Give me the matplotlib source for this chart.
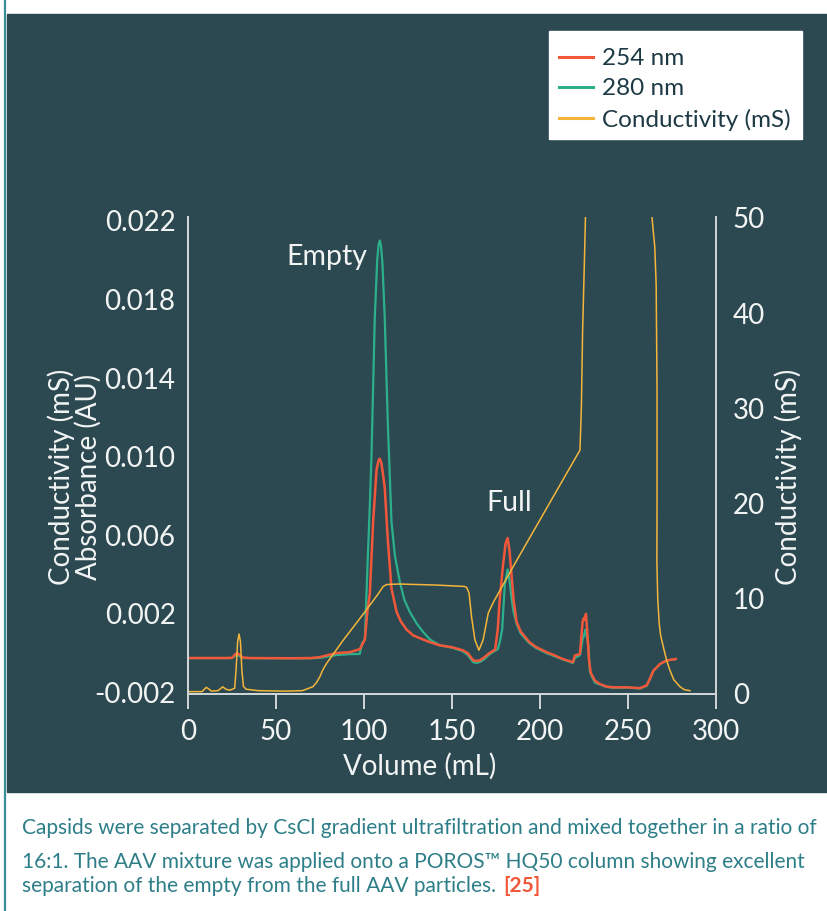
import matplotlib
matplotlib.use("Agg")
import matplotlib.pyplot as plt
from matplotlib.patches import Rectangle
from matplotlib.lines import Line2D

plt.rcParams['font.family'] = ['Lato', 'DejaVu Sans']

# ---- data ----
vol_254 = [0, 20, 25, 27, 28, 29.5, 31, 35, 60, 70, 75, 84, 92, 97.6, 100.5, 102, 103.3,
           105.2, 107.1, 108.2, 109, 109.8, 110.5, 111.8, 113.5, 115.6, 118.5, 121, 124.2, 128,
           133.4, 137.4, 143, 150, 156, 159, 162, 164, 166, 168.5, 170.5, 173, 174.5,
           176, 177, 179, 180.5, 181.6, 182.7, 183.8, 185, 186.7, 189, 194, 198, 203.7,
           208, 213, 218.7, 219.8, 222.7, 224.2, 225, 225.5, 226.1, 227, 227.8, 228.8,
           231.2, 234, 237.8, 241.5, 249.2, 256.8, 260.6, 262.5, 264.4, 268.2, 272, 277.1]
abs_254 = [-0.00025, -0.00025, -0.00024, -0.00005, 0.0, -0.0001, -0.00022, -0.00025,
           -0.00026, -0.00025, -0.0002, 0.0, 0.00005, 0.0002, 0.0007, 0.0022, 0.0030,
           0.0067, 0.0093, 0.0098, 0.0099, 0.0097, 0.0093, 0.0084, 0.0058, 0.0033, 0.0021, 0.0016,
           0.0012, 0.0009, 0.0007, 0.00056, 0.0004, 0.0003, 0.00015, 0.0, -0.00036, -0.0004,
           -0.00036, -0.0002, -0.00005, 0.0001, 0.00018, 0.0012, 0.0026, 0.0045, 0.0056,
           0.00586, 0.0052, 0.0040, 0.0027, 0.0016, 0.0011, 0.00056, 0.0003, 0.00005,
           -0.0001, -0.0003, -0.00046, -0.00012, -0.00004, 0.0016, 0.0018, 0.0017, 0.0020,
           0.0009, -0.0003, -0.0010, -0.0014, -0.00157, -0.0017, -0.00174, -0.00174,
           -0.00178, -0.00164, -0.0013, -0.0009, -0.00055, -0.00037, -0.0003]

vol_280 = [0, 25, 27, 28.5, 30, 31, 60, 70, 75, 84, 92, 97.6, 98.9, 100.5, 102, 103.3, 104.3,
           106.1, 107.5, 108.3, 109, 109.7, 110.5, 111.8, 113.5, 115.6, 117.5, 120.4, 123, 126, 130,
           133.4, 137.4, 143, 150, 156, 159, 162, 164, 166, 168.5, 170.5, 173, 176, 177,
           178.5, 180, 181.6, 182.7, 183.8, 185, 186.7, 189, 194, 198, 203.7, 208, 213,
           218.7, 219.8, 222.7, 224.2, 225, 225.8, 226.6, 227.5, 228.3, 229.5, 231.2, 234,
           237.8, 241.5, 249.2, 256.8, 260.6, 262.5, 264.4, 268.2, 272, 277.1]
abs_280 = [-0.00025, -0.00025, -0.00012, -0.0001, -0.0002, -0.00025, -0.00026, -0.00026,
           -0.00024, -0.0001, -0.00005, -0.00004, 0.0005, 0.0007, 0.0045, 0.0075, 0.0102,
           0.0170, 0.0200, 0.0208, 0.0210, 0.0207, 0.0198, 0.0170, 0.0118, 0.0067, 0.0050,
           0.0036, 0.0027, 0.0021, 0.0015, 0.0011, 0.0007, 0.0004, 0.00028, 0.0001, -0.0001,
           -0.00046, -0.0005, -0.00044, -0.0003, -0.00012, 0.00005, 0.0002, 0.0005, 0.0012,
           0.0035, 0.00426, 0.0037, 0.0028, 0.0021, 0.0015, 0.0010, 0.0005, 0.00025, 0.0,
           -0.00015, -0.00032, -0.0005, -0.00025, -0.0001, 0.0007, 0.0009, 0.0012, 0.0008,
           0.0004, -0.0009, -0.0012, -0.0015, -0.0016, -0.00172, -0.00176, -0.00175, -0.0018,
           -0.00166, -0.0013, -0.0009, -0.00056, -0.00038, -0.0003]

vol_cond = [0, 8, 10.4, 12, 13.3, 17, 19.8, 21.5, 23.7, 26.5, 27.3, 28.2, 29, 29.8, 30.6,
            31.5, 33, 40, 55, 65, 71, 73, 74.9, 76.5, 78.7, 88, 100, 108, 110.9, 113, 120,
            140, 157, 158.3, 159.7, 161.1, 163, 165.3, 167.7, 170.6, 173.4, 184.8, 220.8,
            222.7, 223.5, 224.2, 225.3, 226.2, 262.5, 263.8, 265.2, 266.0, 266.5, 266.5,
            266.4, 266.9, 267.7, 268.5, 270, 272, 273.8, 276, 279.5, 282, 285.2]
cond_ms = [0.25, 0.25, 0.7, 0.5, 0.3, 0.35, 0.75, 0.5, 0.4, 0.6, 2.5, 5.5, 6.3, 5.5, 2.5,
           0.8, 0.5, 0.35, 0.3, 0.35, 0.77, 1.2, 1.8, 2.5, 3.2, 5.6, 8.5, 10.5, 11.3, 11.5,
           11.55, 11.45, 11.3, 11.2, 10.6, 8.1, 5.7, 4.6, 5.7, 8.5, 9.6, 13.4, 25.0, 25.6,
           30, 38, 46, 53, 53, 49.7, 47, 43, 32, 20, 14, 10, 7.5, 6.2, 5.0, 3.5, 2.5, 1.5,
           0.77, 0.45, 0.35]

x_ticks = [0, 50, 100, 150, 200, 250, 300]
abs_ticks = [-0.002, 0.002, 0.006, 0.010, 0.014, 0.018, 0.022]
abs_labels = ['-0.002', '0.002', '0.006', '0.010', '0.014', '0.018', '0.022']
cond_ticks = [0, 10, 20, 30, 40, 50]
series_names = ['254 nm', '280 nm', 'Conductivity (mS)']

caption = ["Capsids were separated by CsCl gradient ultrafiltration and mixed together in a ratio of",
           "16:1. The AAV mixture was applied onto a POROS\u2122 HQ50 column showing excellent",
           "separation of the empty from the full AAV particles."]

PANEL = '#2c4951'
RED = '#f2573a'
GREEN = '#2cb08c'
ORANGE = '#f4b53a'
TXT = '#f2f4f4'
SPINE = '#d0d6d8'
TEAL = '#2d7e88'

W, H = 827, 911
fig = plt.figure(figsize=(W / 100, H / 100), dpi=100)
fig.patch.set_facecolor('white')

# dark panel, teal left rule, white legend box
fig.patches.append(Rectangle((7 / W, 1 - 792 / H), 1, (792 - 14) / H,
                             transform=fig.transFigure, color=PANEL, zorder=-5))
fig.lines.append(Line2D([5 / W, 5 / W], [0, 1], transform=fig.transFigure,
                        color='#3a8e98', lw=1.6, zorder=-4))
fig.patches.append(Rectangle((549 / W, 1 - 139 / H), (802 - 549) / W, (139 - 31) / H,
                             transform=fig.transFigure, color='white', zorder=-3))

ax = fig.add_axes([188 / W, 1 - 694 / H, (716 - 188) / W, (694 - 217) / H])
ax.set_facecolor('none')
ax2 = ax.twinx()

ax.plot(vol_280, abs_280, color=GREEN, lw=1.6)
ax.plot(vol_254, abs_254, color=RED, lw=1.8)
ax2.plot(vol_cond, cond_ms, color=ORANGE, lw=1.1)

ax.set_xlim(0, 300)
ax.set_ylim(-0.00208, 0.0222)
ax2.set_ylim(0, 50.1)

ax.set_xticks(x_ticks)
ax.set_yticks(abs_ticks)
ax.set_yticklabels(abs_labels)
ax2.set_yticks(cond_ticks)

for a in (ax, ax2):
    a.spines['top'].set_visible(False)
    for s in ('left', 'right', 'bottom'):
        a.spines[s].set_color(SPINE)
        a.spines[s].set_linewidth(1.4)
ax.spines['right'].set_visible(False)

ax.tick_params(axis='x', length=11, width=1.4, color=SPINE, labelcolor=TXT,
               labelsize=20, pad=7)
ax.tick_params(axis='y', length=0, labelcolor=TXT, labelsize=20, pad=9)
ax2.tick_params(axis='y', length=0, labelcolor=TXT, labelsize=20, pad=12)

ax.set_xlabel('Volume (mL)', color=TXT, fontsize=20)
ax.xaxis.set_label_coords((420 - 188) / 528, -0.124)
ax.set_ylabel('Conductivity (mS)\nAbsorbance (AU)', color=TXT, fontsize=20,
              linespacing=1.0)
ax.yaxis.set_label_coords(-0.163, 0.455)
ax2.set_ylabel('Conductivity (mS)', color=TXT, fontsize=20)
ax2.yaxis.set_label_coords(1.11, 0.455)

ax.text(327 / W, 1 - 257 / H, 'Empty', transform=fig.transFigure, color=TXT,
        fontsize=20.5, ha='center', va='center')
ax.text(509 / W, 1 - 503 / H, 'Full', transform=fig.transFigure, color=TXT,
        fontsize=20.5, ha='center', va='center')

handles = [Line2D([], [], color=c, lw=2.2) for c in (RED, GREEN, ORANGE)]
leg = fig.legend(handles=handles, labels=series_names, loc='upper left',
                 bbox_to_anchor=(559 / W, 1 - 48 / H), frameon=False,
                 fontsize=17.5, handlelength=1.4, handletextpad=0.36, labelspacing=0.38,
                 borderpad=0, borderaxespad=0)
for t in leg.get_texts():
    t.set_color('#1d3a44')

ys = [828, 862, 886]
last = None
for line, y in zip(caption, ys):
    last = fig.text(22 / W, 1 - y / H, line, color=TEAL, fontsize=15, va='center')
plt.annotate('[25]', xy=(1, 0.5), xycoords=last, xytext=(5, 0), textcoords='offset points',
             va='center', ha='left', color=RED, fontsize=15, fontweight='bold')

fig.savefig('out.png', dpi=100, facecolor=fig.get_facecolor())
